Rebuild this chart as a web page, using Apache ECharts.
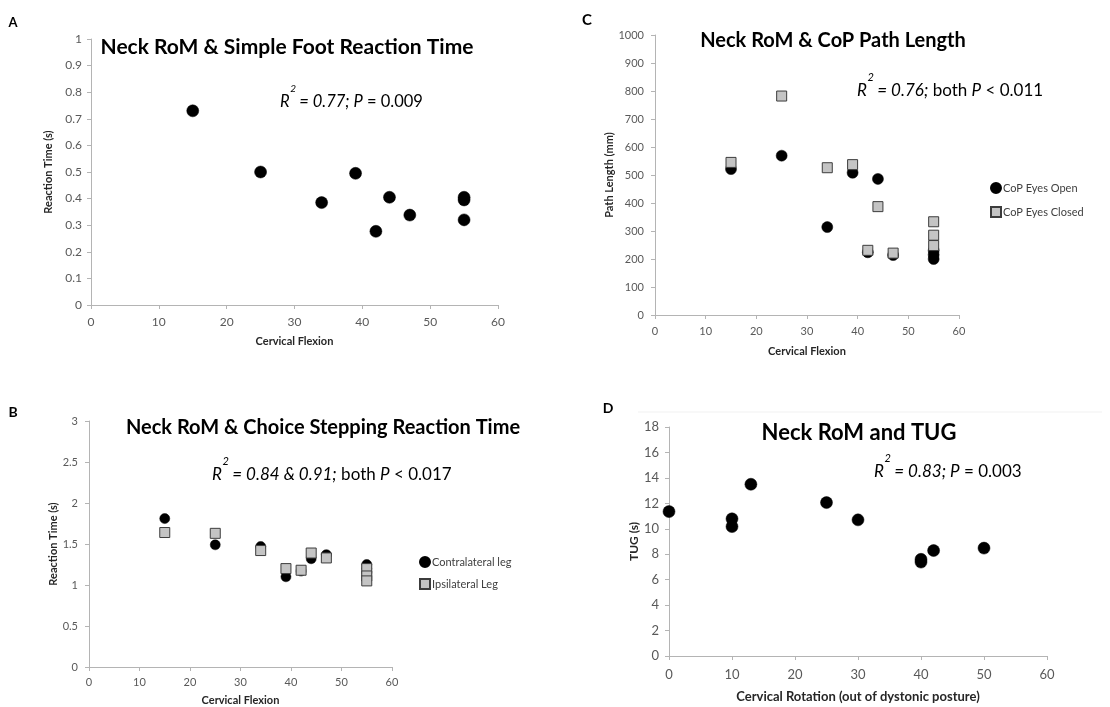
<!DOCTYPE html>
<html><head><meta charset="utf-8">
<script src="https://cdn.jsdelivr.net/npm/echarts@6/dist/echarts.min.js"></script>
<style>html,body{margin:0;padding:0;background:#fff}#c{width:1110px;height:707px}</style>
</head><body><div id="c"></div>
<script>
const FONT = 'Lato, "Open Sans", sans-serif';
// Panel A – Simple foot reaction time
const aFlexion = [15, 25, 34, 39, 42, 44, 47, 55, 55, 55];
const aReaction = [0.73, 0.50, 0.385, 0.495, 0.277, 0.405, 0.338, 0.405, 0.395, 0.32];
// Panel C – CoP path length
const cFlexion = [15, 25, 34, 39, 42, 44, 47, 55, 55, 55];
const cEyesOpen = [521, 569, 314, 508, 224, 486, 214, 200, 215, 230];
const cEyesClosed = [545, 782, 526, 537, 231, 387, 221, 333, 285, 248];
// Panel B – Choice stepping reaction time
const bFlexion = [15, 25, 34, 39, 42, 44, 47, 55, 55, 55];
const bContra = [1.81, 1.49, 1.47, 1.10, 1.17, 1.32, 1.37, 1.25, 1.20, 1.12];
const bIpsi = [1.64, 1.63, 1.42, 1.20, 1.18, 1.39, 1.33, 1.20, 1.11, 1.05];
// Panel D – TUG
const dRotation = [0, 10, 10, 13, 25, 30, 40, 40, 42, 50];
const dTUG = [11.35, 10.78, 10.17, 13.5, 12.06, 10.7, 7.6, 7.38, 8.29, 8.48];

const zip = (xs, ys) => xs.map((x, i) => [x, ys[i]]);

const AXIS_COLOR = '#b4b4b4';
const LABEL_COLOR = '#595959';
const NAME_COLOR = '#262626';

function ax(gi, max, interval, name, gap, nameSize, labelSize, margin) {
  return {
    gridIndex: gi, type: 'value', min: 0, max: max, interval: interval,
    name: name, nameLocation: 'middle', nameGap: gap,
    nameTextStyle: {fontFamily: FONT, fontWeight: 'bold', fontSize: nameSize, color: NAME_COLOR},
    axisLine: {show: true, lineStyle: {color: AXIS_COLOR, width: 1}},
    axisTick: {show: true, length: 4, lineStyle: {color: AXIS_COLOR}},
    axisLabel: {fontFamily: FONT, fontSize: labelSize, color: LABEL_COLOR, margin: margin,
                formatter: v => String(+v.toFixed(2))},
    splitLine: {show: false}
  };
}

// measure text width for superscript placement
const mctx = document.createElement('canvas').getContext('2d');
function tw(txt, size, style) {
  mctx.font = (style || '') + ' ' + size + 'px ' + FONT;
  return mctx.measureText(txt).width;
}

// annotation: "R" + superscript "2" + parts
function annotation(x, y, size, parts) {
  const rich = {
    i: {fontFamily: FONT, fontSize: size, fontStyle: 'italic', fill: '#000'},
    n: {fontFamily: FONT, fontSize: size, fill: '#000'},
    s: {fontFamily: FONT, fontSize: Math.round(size * 0.62), fill: 'rgba(0,0,0,0)'}
  };
  let txt = '{i|R}{s|2}';
  parts.forEach(p => { txt += '{' + (p[1] ? 'i' : 'n') + '|' + p[0] + '}'; });
  const rw = tw('R', size, 'italic');
  return [
    {type: 'text', x: x, y: y, silent: true,
     style: {text: txt, rich: rich, align: 'left', verticalAlign: 'middle', fontFamily: FONT, fontSize: size}},
    {type: 'text', x: x + rw + 0.5, y: y - size * 0.8, silent: true,
     style: {text: '2', fontFamily: FONT, fontStyle: 'italic', fontSize: Math.round(size * 0.62), fill: '#000', align: 'left', verticalAlign: 'middle'}}
  ];
}
function label(txt, x, y, size, bold, align) {
  return {type: 'text', x: x, y: y, silent: true,
    style: {text: txt, fontFamily: FONT, fontSize: size, fontWeight: bold ? 'bold' : 'normal', fill: '#000', align: align || 'center', verticalAlign: 'middle'}};
}

const graphics = [
  {type: 'line', silent: true, shape: {x1: 638, y1: 412, x2: 1102, y2: 412}, style: {stroke: '#f1f1f1', lineWidth: 1}},
  label('A', 13, 23, 13, true),
  label('C', 587, 20, 15, true),
  label('B', 13, 412, 14, true),
  label('D', 608, 408, 14, true),
  label('Neck RoM & Simple Foot Reaction Time', 287, 47, 21, true),
  label('Neck RoM & CoP Path Length', 833, 41, 20, true),
  label('Neck RoM & Choice Stepping Reaction Time', 323, 428, 20, true),
  label('Neck RoM and TUG', 859, 433, 22, true)
].concat(
  annotation(280, 102, 16.5, [[' = 0.77; ', true], ['P', true], [' = 0.009', false]]),
  annotation(857, 91, 17, [[' = 0.76;', true], [' both ', false], ['P', true], [' < 0.011', false]]),
  annotation(212, 475, 17, [[' = 0.84 & 0.91;', true], [' both ', false], ['P', true], [' < 0.017', false]]),
  annotation(874, 472, 17, [[' = 0.83; ', true], ['P', true], [' = 0.003', false]])
);

const circleStyle = {color: '#000', borderColor: '#000', borderWidth: 0.5, opacity: 1};
const squareStyle = {color: '#c4c4c4', borderColor: '#3c3c3c', borderWidth: 1, opacity: 1};

const option = {
  animation: false,
  backgroundColor: '#fff',
  grid: [
    {left: 91, top: 39, width: 407, height: 266},
    {left: 655, top: 35, width: 304, height: 280},
    {left: 89, top: 421, width: 303, height: 250},
    {left: 669, top: 427, width: 378, height: 229}
  ],
  xAxis: [
    ax(0, 60, 10, 'Cervical Flexion', 31, 11, 12, 11),
    ax(1, 60, 10, 'Cervical Flexion', 31, 11, 11, 11),
    ax(2, 60, 10, 'Cervical Flexion', 28, 11, 11, 10),
    ax(3, 60, 10, 'Cervical Rotation (out of dystonic posture)', 34, 13, 13, 12)
  ],
  yAxis: [
    ax(0, 1, 0.1, 'Reaction Time (s)', 37, 11, 12, 9),
    ax(1, 1000, 100, 'Path Length (mm)', 40, 11, 11, 11),
    ax(2, 3, 0.5, 'Reaction Time (s)', 30, 11, 11, 11),
    ax(3, 18, 2, 'TUG (s)', 28, 12, 13, 10)
  ],
  legend: [
    {orient: 'vertical', left: 985, top: 177, itemWidth: 10, itemHeight: 10, itemGap: 12,
     textStyle: {fontFamily: FONT, fontSize: 11, color: '#404040', padding: [0, 0, 0, -3]},
     data: [{name: 'CoP Eyes Open', icon: 'circle'}, {name: 'CoP Eyes Closed', icon: 'rect'}]},
    {orient: 'vertical', left: 414, top: 551, itemWidth: 10, itemHeight: 10, itemGap: 10,
     textStyle: {fontFamily: FONT, fontSize: 11, color: '#404040', padding: [0, 0, 0, -3]},
     data: [{name: 'Contralateral leg', icon: 'circle'}, {name: 'Ipsilateral Leg', icon: 'rect'}]}
  ],
  graphic: graphics,
  series: [
    {type: 'scatter', name: 'Simple Foot RT', xAxisIndex: 0, yAxisIndex: 0, symbol: 'circle', symbolSize: 12,
     itemStyle: circleStyle, data: zip(aFlexion, aReaction)},
    {type: 'scatter', name: 'CoP Eyes Open', xAxisIndex: 1, yAxisIndex: 1, symbol: 'circle', symbolSize: 11,
     itemStyle: circleStyle, data: zip(cFlexion, cEyesOpen)},
    {type: 'scatter', name: 'CoP Eyes Closed', xAxisIndex: 1, yAxisIndex: 1, symbol: 'rect', symbolSize: 10,
     itemStyle: squareStyle, data: zip(cFlexion, cEyesClosed)},
    {type: 'scatter', name: 'Contralateral leg', xAxisIndex: 2, yAxisIndex: 2, symbol: 'circle', symbolSize: 10,
     itemStyle: circleStyle, data: zip(bFlexion, bContra)},
    {type: 'scatter', name: 'Ipsilateral Leg', xAxisIndex: 2, yAxisIndex: 2, symbol: 'rect', symbolSize: 10,
     itemStyle: squareStyle, data: zip(bFlexion, bIpsi)},
    {type: 'scatter', name: 'TUG', xAxisIndex: 3, yAxisIndex: 3, symbol: 'circle', symbolSize: 12,
     itemStyle: circleStyle, data: zip(dRotation, dTUG)}
  ]
};
const chart = echarts.init(document.getElementById('c'), null, {renderer: 'canvas'});
chart.setOption(option);
</script></body></html>
